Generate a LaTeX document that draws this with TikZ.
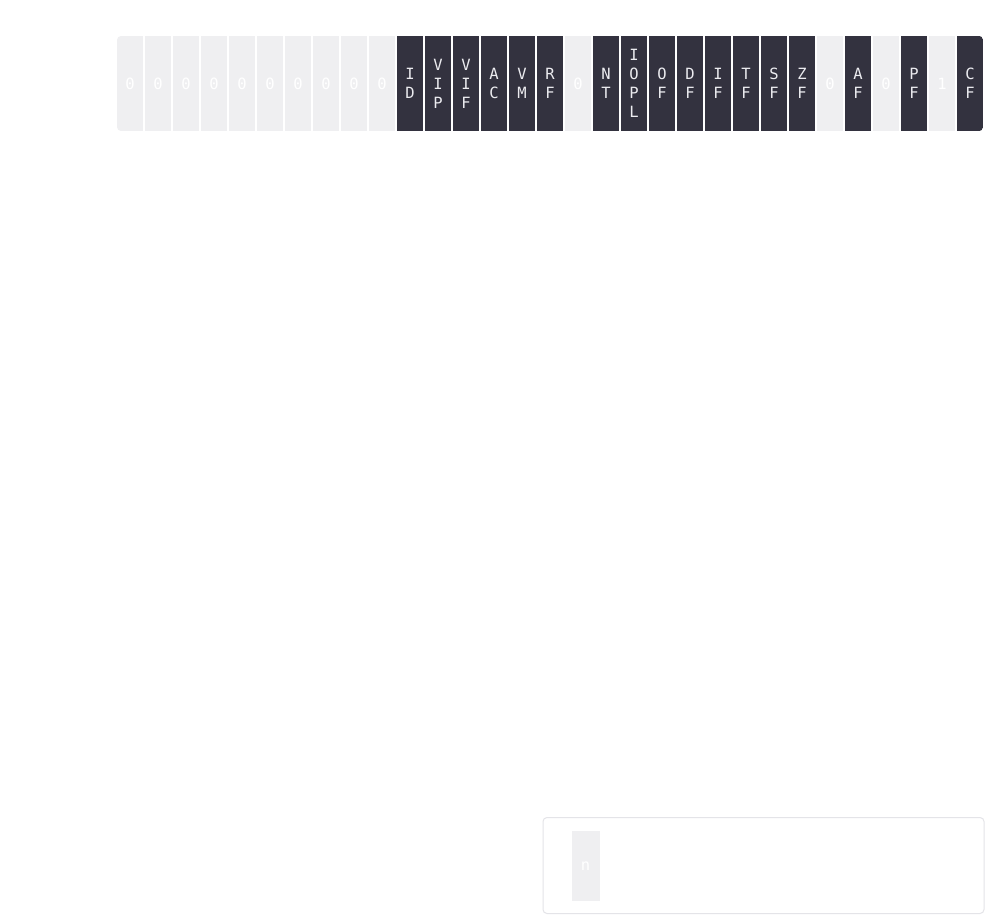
\documentclass[tikz,border=0pt]{standalone}
\usepackage{fontspec}
\newfontfamily\monof{DejaVu Sans Mono}
\definecolor{darkcell}{HTML}{33323F}
\definecolor{lightcell}{HTML}{EFEFF1}
\definecolor{darktext}{HTML}{ECECF0}
\definecolor{boxline}{HTML}{E4E4E8}
\tikzset{
  x=1pt, y=-1pt,
  cellbase/.style={minimum width=26.3pt, minimum height=95pt, inner sep=0pt, outer sep=0pt,
    align=center, font=\monof\fontsize{15.5}{19}\selectfont},
  darkbit/.style={cellbase, fill=darkcell, text=darktext},
  lightbit/.style={cellbase, fill=lightcell, text=white},
}
\begin{document}
\begin{tikzpicture}
\useasboundingbox[fill=white] (0,0) rectangle (994,924);
\begin{scope}
\clip[rounded corners=4pt] (117,36) rectangle (983.3,131);
\foreach \i/\t/\lab in {
 0/lightbit/0, 1/lightbit/0, 2/lightbit/0, 3/lightbit/0, 4/lightbit/0,
 5/lightbit/0, 6/lightbit/0, 7/lightbit/0, 8/lightbit/0, 9/lightbit/0,
 10/darkbit/{I\\D}, 11/darkbit/{V\\I\\P}, 12/darkbit/{V\\I\\F}, 13/darkbit/{A\\C},
 14/darkbit/{V\\M}, 15/darkbit/{R\\F}, 16/lightbit/0, 17/darkbit/{N\\T},
 18/darkbit/{I\\O\\P\\L}, 19/darkbit/{O\\F}, 20/darkbit/{D\\F}, 21/darkbit/{I\\F},
 22/darkbit/{T\\F}, 23/darkbit/{S\\F}, 24/darkbit/{Z\\F}, 25/lightbit/0,
 26/darkbit/{A\\F}, 27/lightbit/0, 28/darkbit/{P\\F}, 29/lightbit/1, 30/darkbit/{C\\F}}
{
  \node[\t] (c\i) at ({117+13.15+28*\i},83.5) {\lab};
}
\end{scope}
\node[draw=boxline, line width=1pt, fill=white, rounded corners=4pt,
  minimum width=441pt, minimum height=96pt, inner sep=0pt] (legend) at (763.5,865.5) {};
\node[lightbit, minimum width=28pt, minimum height=70pt] (n) at (585.5,866) {n};
\end{tikzpicture}
\end{document}
